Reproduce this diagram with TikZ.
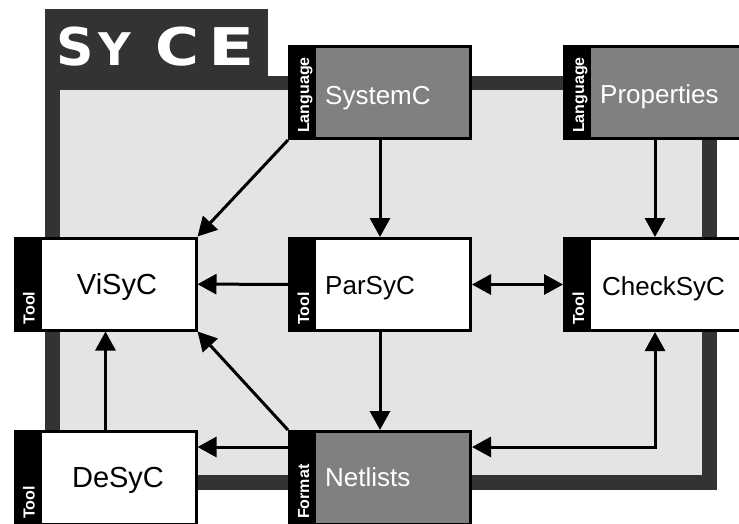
\documentclass[tikz,border=0pt]{standalone}
\usepackage{fontspec}
\setmainfont{Liberation Sans}
\newfontfamily\logofont{DejaVu Sans}
\usetikzlibrary{arrows.meta}
\definecolor{framegray}{HTML}{333333}
\definecolor{innergray}{HTML}{E4E4E4}
\definecolor{boxgray}{HTML}{808080}
\begin{document}
\begin{tikzpicture}[x=1pt,y=-1pt,
  box/.style={draw=black, line width=3pt, inner sep=0pt, minimum width=181pt, minimum height=92pt},
  toolbox/.style={box, fill=white},
  langbox/.style={box, fill=boxgray},
  lab/.style={text=white, font=\bfseries\fontsize{16}{16}\selectfont, rotate=90, anchor=base west, inner sep=0pt},
  boxtext/.style={font=\fontsize{26}{26}\selectfont, inner sep=0pt, anchor=base west},
  bigtext/.style={font=\fontsize{29}{29}\selectfont, inner sep=0pt, anchor=base},
  arr/.style={line width=3pt, -{Triangle[length=19pt,width=20pt]}},
  darr/.style={line width=3pt, {Triangle[length=19pt,width=20pt]}-{Triangle[length=19pt,width=20pt]}}]
\useasboundingbox (0,0) rectangle (739,523);
\fill[white] (0,0) rectangle (739,523);
% frame
\fill[framegray] (45,9) rectangle (268,90);
\fill[framegray] (45,76) rectangle (717,490);
\fill[innergray] (60,90) rectangle (702,475);
\node[anchor=base west, text=white, inner sep=0pt, font=\logofont\bfseries\fontsize{52}{52}\selectfont] (logo) at (56,65) {S\kern5pt{\fontsize{45}{45}\selectfont Y}\kern24pt\scalebox{1.15}[1]{C}\kern9pt\scalebox{1.3}[1]{E}};
% boxes
\node[toolbox] (vis) at (105.5,284) {};
\node[toolbox, minimum height=93pt] (des) at (105.5,478) {};
\node[langbox] (sys) at (380,92.5) {};
\node[toolbox] (par) at (380,284.5) {};
\node[langbox, minimum height=93pt] (net) at (380,478) {};
\node[langbox] (pro) at (655,92.5) {};
\node[toolbox] (chk) at (655,284.5) {};
% label bars
\foreach \n in {vis,des,sys,par,net,pro,chk}
  \fill[black] (\n.north west) rectangle ([xshift=28pt]\n.south west);
\node[lab] (visl) at ([xshift=21pt,yshift=7pt]vis.south west) {Tool};
\node[lab] (desl) at ([xshift=21pt,yshift=7pt]des.south west) {Tool};
\node[lab] (sysl) at ([xshift=21pt,yshift=7pt]sys.south west) {Language};
\node[lab] (parl) at ([xshift=21pt,yshift=7pt]par.south west) {Tool};
\node[lab] (netl) at ([xshift=21pt,yshift=7pt]net.south west) {Format};
\node[lab] (prol) at ([xshift=21pt,yshift=7pt]pro.south west) {Language};
\node[lab] (chkl) at ([xshift=21pt,yshift=7pt]chk.south west) {Tool};
% names
\node[bigtext] (vist) at (117,294) {ViSyC};
\node[bigtext] (dest) at (118,487) {DeSyC};
\node[boxtext, text=white] (syst) at (325,104) {SystemC};
\node[boxtext] (part) at (325,294) {ParSyC};
\node[boxtext, text=white] (nett) at (325,486) {Netlists};
\node[boxtext, text=white] (prot) at (600,103) {Properties};
\node[boxtext] (chkt) at (602,295) {CheckSyC};
% connectors
\coordinate (yN) at (0,447);
\draw[arr] (sys.south west) -- (vis.north east);
\draw[arr] (sys) -- (par);
\draw[arr] (pro) -- (chk);
\draw[arr] (par) -- (vis);
\draw[darr] (par) -- (chk);
\draw[arr] (par) -- (net);
\draw[arr] (net.north west) -- (vis.south east);
\draw[arr] (des) -- (vis);
\draw[arr] (net.west |- yN) -- (des.east |- yN);
\draw[darr] (net.east |- yN) -| (chk.south);
\end{tikzpicture}
\end{document}
